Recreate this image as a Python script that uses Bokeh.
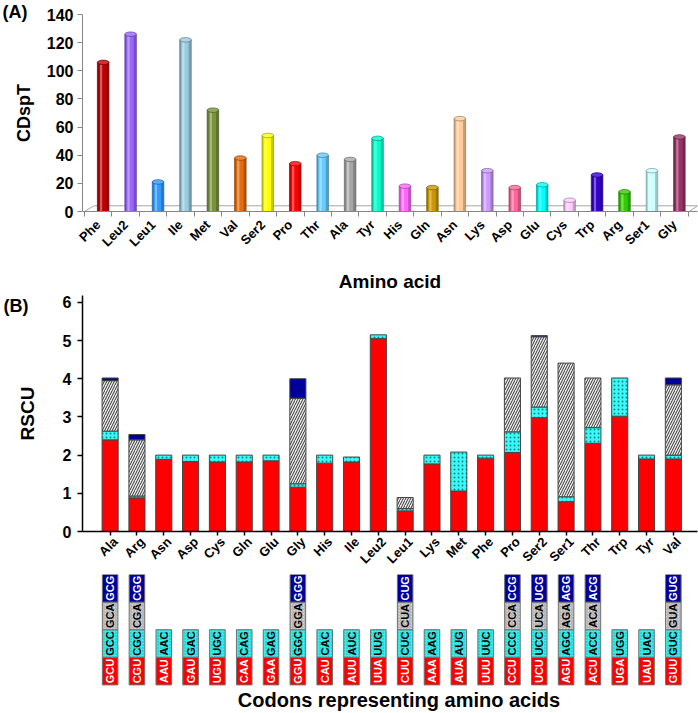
import numpy as np
from math import pi
from bokeh.plotting import figure
from bokeh.models import Range1d, FixedTicker, Title, ColumnDataSource
from bokeh.layouts import column
from bokeh.embed import file_html
from bokeh.resources import INLINE
from bokeh.core.properties import value

# ---------------- data: panel A ----------------
aa_a = ["Phe", "Leu2", "Leu1", "Ile", "Met", "Val", "Ser2", "Pro", "Thr", "Ala", "Tyr",
        "His", "Gln", "Asn", "Lys", "Asp", "Glu", "Cys", "Trp", "Arg", "Ser1", "Gly"]
cdspt = [106, 126, 21, 122, 72, 38, 54, 34, 40, 37, 52, 18, 17, 66, 29, 17, 19, 8, 26, 14, 29, 53]
a_ticks = [0, 20, 40, 60, 80, 100, 120, 140]

# ---------------- data: panel B ----------------
aa_b = ["Ala", "Arg", "Asn", "Asp", "Cys", "Gln", "Glu", "Gly", "His", "Ile", "Leu2",
        "Leu1", "Lys", "Met", "Phe", "Pro", "Ser2", "Ser1", "Thr", "Trp", "Tyr", "Val"]
rscu_1 = [2.40, 0.88, 1.89, 1.83, 1.82, 1.82, 1.85, 1.16, 1.79, 1.82, 5.05,
          0.54, 1.77, 1.06, 1.92, 2.07, 2.98, 0.78, 2.31, 3.02, 1.90, 1.90]
rscu_2 = [0.23, 0.05, 0.11, 0.17, 0.18, 0.18, 0.15, 0.09, 0.21, 0.13, 0.10,
          0.06, 0.23, 1.02, 0.08, 0.54, 0.28, 0.13, 0.41, 1.00, 0.10, 0.10]
rscu_3 = [1.32, 1.47, 0, 0, 0, 0, 0, 2.24, 0, 0, 0,
          0.29, 0, 0, 0, 1.41, 1.84, 3.50, 1.30, 0, 0, 1.84]
rscu_4 = [0.07, 0.14, 0, 0, 0, 0, 0, 0.51, 0, 0, 0,
          0, 0, 0, 0, 0, 0.03, 0, 0, 0, 0, 0.18]
b_ticks = [0, 1, 2, 3, 4, 5, 6]

codon_1 = ["GCU", "CGU", "AAU", "GAU", "UGU", "CAA", "GAA", "GGU", "CAU", "AUU", "UUA",
           "CUU", "AAA", "AUA", "UUU", "CCU", "UCU", "AGU", "ACU", "UGA", "UAU", "GUU"]
codon_2 = ["GCC", "CGC", "AAC", "GAC", "UGC", "CAG", "GAG", "GGC", "CAC", "AUC", "UUG",
           "CUC", "AAG", "AUG", "UUC", "CCC", "UCC", "AGC", "ACC", "UGG", "UAC", "GUC"]
codon_3 = ["GCA", "CGA", "", "", "", "", "", "GGA", "", "", "",
           "CUA", "", "", "", "CCA", "UCA", "AGA", "ACA", "", "", "GUA"]
codon_4 = ["GCG", "CGG", "", "", "", "", "", "GGG", "", "", "",
           "CUG", "", "", "", "CCG", "UCG", "AGG", "ACG", "", "", "GUG"]

# ---------------- styles ----------------
colors_a = ["#C00000", "#9966FF", "#3399FF", "#99CCE0", "#77933C", "#E46C0A", "#FFFF00",
            "#FF0000", "#66CCFF", "#A6A6A6", "#00FFCC", "#FF66FF", "#CC9900", "#FFCC99",
            "#CC99FF", "#FF6699", "#00FFFF", "#FFCCFF", "#3300CC", "#33CC00", "#CCFFFF", "#993366"]
FONT = "Liberation Sans"
W = 698


def hex2rgb(h):
    h = h.lstrip("#")
    return [int(h[i:i + 2], 16) for i in (0, 2, 4)]


def blend(h, t, f):
    a = hex2rgb(h)
    b = hex2rgb(t)
    return "#%02x%02x%02x" % tuple(int(round(a[i] + (b[i] - a[i]) * f)) for i in range(3))


def clean(p):
    p.outline_line_color = None
    p.xgrid.visible = False
    p.ygrid.visible = False
    p.background_fill_color = "white"
    p.border_fill_color = "white"


def panel_tag(text, offset, standoff):
    return Title(text=text, align="left", offset=offset, standoff=standoff,
                 vertical_align="bottom", text_font=FONT, text_font_style="bold",
                 text_font_size="18px", text_color="black")


# ================= Panel A =================
nA = len(aa_a)
xa = np.arange(nA)
pA = figure(width=W, height=295, x_range=Range1d(-0.573, 21.84), y_range=Range1d(0, 140),
            output_backend="svg", toolbar_location=None,
            min_border_left=82, min_border_right=1, min_border_top=14, min_border_bottom=84)
clean(pA)

# 3D floor
pA.patch(x=[-0.5, -0.16, 21.84, 21.54], y=[0, 4.05, 4.05, 0],
         fill_color="white", line_color="#A6A6A6", line_width=1)

xc = xa + 0.18
srcA = ColumnDataSource(dict(
    x=xc, x_mid=xc - 0.02, x_hi=xc - 0.075, top=cdspt,
    outer=[blend(c, "#000000", 0.22) for c in colors_a],
    mid=colors_a,
    hi=[blend(c, "#FFFFFF", 0.45) for c in colors_a],
    cap=[blend(c, "#FFFFFF", 0.2) for c in colors_a],
    edge=[blend(c, "#000000", 0.4) for c in colors_a],
))
pA.vbar(x="x", top="top", bottom=0, width=0.42, fill_color="outer", line_color="edge",
        line_width=0.7, source=srcA)
pA.vbar(x="x_mid", top="top", bottom=0, width=0.27, fill_color="mid", line_color=None, source=srcA)
pA.vbar(x="x_hi", top="top", bottom=0, width=0.08, fill_color="hi", line_color=None,
        fill_alpha=0.8, source=srcA)
pA.ellipse(x="x", y="top", width=0.42, height=4.5, height_units="screen",
           fill_color="cap", line_color="edge", line_width=0.7, source=srcA)

axc = "#868686"
pA.xaxis.ticker = FixedTicker(ticks=[int(i) for i in xa],
                              minor_ticks=[float(i) - 0.5 for i in range(nA + 1)])
pA.xaxis.major_label_overrides = {int(i): aa_a[i] for i in xa}
pA.xaxis.major_label_orientation = pi / 4
pA.xaxis.major_tick_out = 0
pA.xaxis.major_tick_in = 0
pA.xaxis.minor_tick_out = 5
pA.xaxis.minor_tick_in = 0
pA.xaxis.minor_tick_line_color = axc
pA.xaxis.axis_line_color = axc
pA.xaxis.major_label_standoff = 6
pA.xaxis.axis_label = "Amino acid"
pA.xaxis.axis_label_standoff = 13

pA.yaxis.ticker = FixedTicker(ticks=a_ticks)
pA.yaxis.bounds = (0, 140)
pA.yaxis.axis_line_color = axc
pA.yaxis.major_tick_line_color = axc
pA.yaxis.major_tick_out = 5
pA.yaxis.major_tick_in = 0
pA.yaxis.minor_tick_line_color = None
pA.yaxis.major_label_standoff = 4
pA.yaxis.axis_label = "CDspT"
pA.yaxis.axis_label_standoff = 10

for ax in (pA.xaxis, pA.yaxis):
    ax.major_label_text_font = FONT
    ax.major_label_text_font_style = "bold"
    ax.major_label_text_color = "black"
    ax.axis_label_text_font = FONT
    ax.axis_label_text_font_style = "bold"
    ax.axis_label_text_font_size = "19px"
    ax.axis_label_text_color = "black"
pA.xaxis.major_label_text_font_size = "13px"
pA.yaxis.major_label_text_font_size = "16px"
pA.yaxis.axis_label_text_font_size = "18px"

pA.add_layout(panel_tag("(A)", -80, -14), "above")

# ================= Panel B =================
nB = len(aa_b)
lb = np.arange(1, nB + 1)          # label anchor positions
xb = lb - 0.2                       # bar / codon column centres
xr = Range1d(-0.23, 22.70)
pB = figure(width=W, height=279, x_range=xr, y_range=Range1d(0, 6.18),
            output_backend="svg", toolbar_location=None,
            min_border_left=81, min_border_right=1, min_border_top=0, min_border_bottom=40)
clean(pB)

r1 = np.array(rscu_1)
r2 = np.array(rscu_2)
r3 = np.array(rscu_3)
r4 = np.array(rscu_4)
t1 = r1
t2 = t1 + r2
t3 = t2 + r3
t4 = t3 + r4
layers = [
    (np.zeros(nB), t1, r1, dict(fill_color="#FF0000")),
    (t1, t2, r2, dict(fill_color="#33FFFF", hatch_pattern="dot", hatch_color="#1F8080",
                      hatch_scale=4, hatch_weight=1.2)),
    (t2, t3, r3, dict(fill_color="#EDEDED", hatch_pattern="right_diagonal_line",
                      hatch_color="#333333", hatch_scale=5, hatch_weight=1)),
    (t3, t4, r4, dict(fill_color="#000099")),
]
for bot, top, h, sty in layers:
    m = h > 0
    pB.vbar(x=xb[m], bottom=bot[m], top=top[m], width=0.6, line_color="#454545",
            line_width=1, **sty)

pB.xaxis.ticker = FixedTicker(ticks=[int(i) for i in lb], minor_ticks=[float(v) for v in xb])
pB.xaxis.major_label_overrides = {int(lb[i]): aa_b[i] for i in range(nB)}
pB.xaxis.major_label_orientation = pi / 4
pB.xaxis.major_tick_out = 0
pB.xaxis.major_tick_in = 0
pB.xaxis.major_tick_line_color = None
pB.xaxis.minor_tick_out = 4
pB.xaxis.minor_tick_in = 0
pB.xaxis.minor_tick_line_color = "black"
pB.xaxis.minor_tick_line_width = 1.5
pB.xaxis.major_label_standoff = 4

pB.yaxis.ticker = FixedTicker(ticks=b_ticks)
pB.yaxis.major_tick_out = 5
pB.yaxis.major_tick_in = 0
pB.yaxis.major_tick_line_color = "black"
pB.yaxis.major_tick_line_width = 1.5
pB.yaxis.minor_tick_line_color = None
pB.yaxis.major_label_standoff = 6
pB.yaxis.axis_label = "RSCU"
pB.yaxis.axis_label_standoff = 22

for ax in (pB.xaxis, pB.yaxis):
    ax.axis_line_color = "black"
    ax.axis_line_width = 1.5
    ax.major_label_text_font = FONT
    ax.major_label_text_font_style = "bold"
    ax.major_label_text_color = "black"
    ax.axis_label_text_font = FONT
    ax.axis_label_text_font_style = "bold"
    ax.axis_label_text_font_size = "19px"
    ax.axis_label_text_color = "black"
pB.xaxis.major_label_text_font_size = "13px"
pB.yaxis.major_label_text_font_size = "16px"

pB.add_layout(panel_tag("(B)", -79, -40), "above")

# ================= Codon table =================
pC = figure(width=W, height=139, x_range=xr, y_range=Range1d(-1.036, 4.0),
            output_backend="svg", toolbar_location=None,
            x_axis_location=None, y_axis_location=None,
            min_border_left=81, min_border_right=1, min_border_top=0, min_border_bottom=0)
clean(pC)

rows = [
    (codon_1, dict(fill_color="#FF0000"), "white"),
    (codon_2, dict(fill_color="#33F0F0", hatch_pattern="dot", hatch_color="#2AA8A8",
                   hatch_scale=3, hatch_weight=0.8), "black"),
    (codon_3, dict(fill_color="#D8D8D8", hatch_pattern="right_diagonal_line",
                   hatch_color="#9A9A9A", hatch_scale=3, hatch_weight=0.8), "black"),
    (codon_4, dict(fill_color="#000099"), "white"),
]
for r, (codes, sty, tcol) in enumerate(rows):
    m = np.array([c != "" for c in codes])
    xs = xb[m]
    txt = [c for c in codes if c != ""]
    pC.vbar(x=xs, bottom=r, top=r + 1, width=0.58, line_color="#707070", line_width=1, **sty)
    pC.text(x=xs, y=[r + 0.5] * len(xs), text=txt, angle=pi / 2, text_align="center",
            text_baseline="middle", text_font=value(FONT), text_font_style="bold",
            text_font_size="11px", text_color=tcol)

pC.text(x=[11.57], y=[-0.565], text=["Codons representing amino acids"], text_align="center",
        text_baseline="middle", text_font=value(FONT), text_font_style="bold",
        text_font_size="20px", text_color="black")

layout = column(pA, pB, pC)
open("out.html", "w").write(file_html(layout, INLINE))
